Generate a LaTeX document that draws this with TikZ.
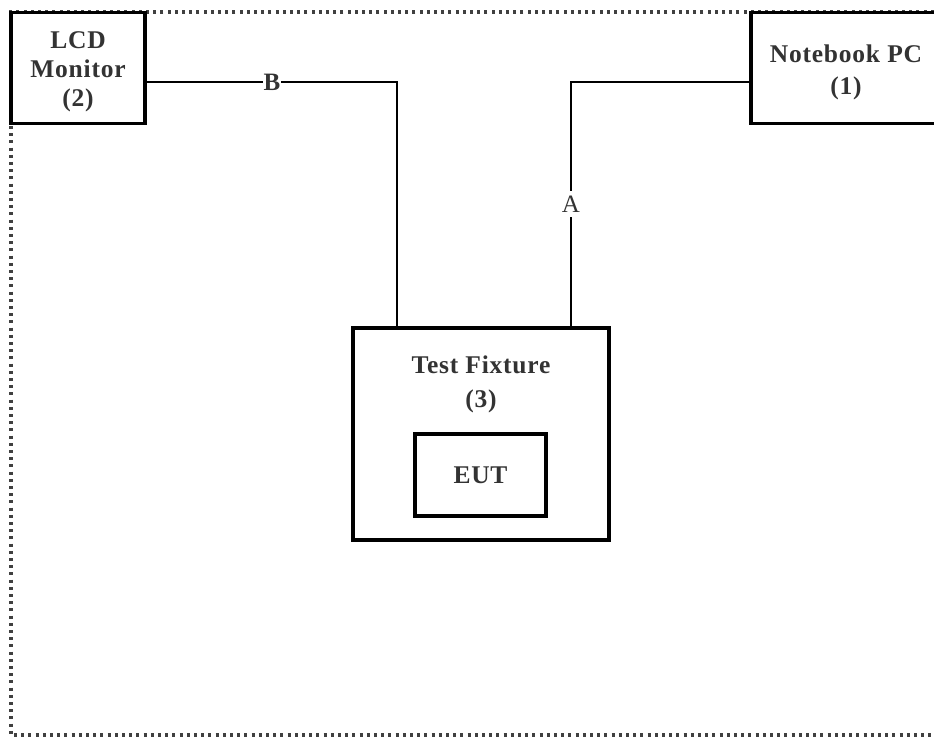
\documentclass[tikz,border=0pt]{standalone}
\usepackage{fontspec}
\setmainfont{Liberation Serif}
\newfontfamily\spaced[LetterSpace=3]{Liberation Serif}
\begin{document}
\begin{tikzpicture}[x=1pt,y=-1pt,
  box/.style={draw=black,line width=3.4pt,fill=white,inner sep=0pt},
  txt/.style={text=black!80,font=\spaced\bfseries\fontsize{25.5}{29}\selectfont,align=center},
  wire/.style={draw=black,line width=2.6pt},
  lbl/.style={fill=white,inner sep=1.5pt,text=black!80,font=\fontsize{25}{26}\selectfont}]
\useasboundingbox (0,0) rectangle (934,738);
\clip (0,0) rectangle (934,738);
\draw[line width=3.2pt,dash pattern=on 3pt off 4.2pt,black!75] (941,12) -- (11,12) -- (11,735) -- (941,735);
% boxes
\node[box,minimum width=134pt,minimum height=111pt] (lcd) at (78,68) {};
\node[txt] (lcdtxt) at (78,72) {LCD\\Monitor\\(2)};
\node[box,minimum width=190pt,minimum height=111pt] (nb) at (846,68) {};
\node[txt,font=\spaced\bfseries\fontsize{25.5}{32}\selectfont] (nbtxt) at (846,72) {Notebook PC\\(1)};
\node[box,minimum width=256pt,minimum height=212pt] (fix) at (481,434) {};
\node[txt,font=\spaced\bfseries\fontsize{25.5}{34}\selectfont] (fixtxt) at (481,384) {Test Fixture\\(3)};
\node[box,minimum width=131pt,minimum height=82pt,txt] (eut) at (480.5,475) {EUT};
% wires
\coordinate (bendB) at (397,82);
\coordinate (bendA) at (571,82);
\draw[wire] (lcd.east |- bendB) -- node[lbl,inner sep=1pt,font=\bfseries\fontsize{25}{26}\selectfont]{B} (bendB) -- (bendB |- fix.north);
\draw[wire] (nb.west |- bendA) -- (bendA) -- node[lbl,inner sep=4.5pt]{A} (bendA |- fix.north);
\end{tikzpicture}
\end{document}
